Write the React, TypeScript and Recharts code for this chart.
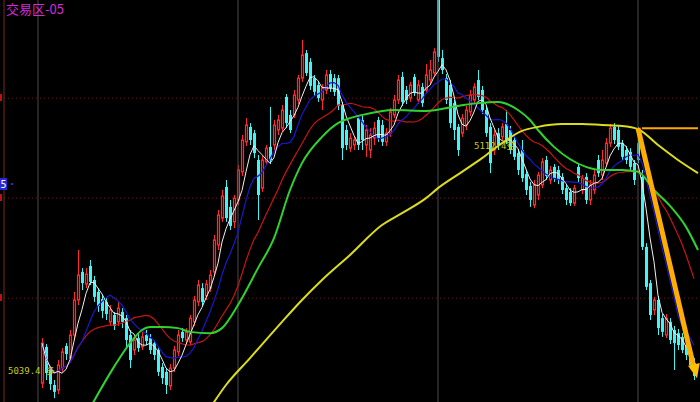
import React from 'react';
import { ComposedChart, Bar, Line, XAxis, YAxis, ReferenceLine, ReferenceDot } from 'recharts';

const FIRST_SLOT = 10;
const SLOT_COUNT = 175;
const Y_DOMAIN: [number, number] = [5029.76, 5158.4];

const opens = [
  5035.8, 5047.4, 5040.0, 5035.2, 5033.6, 5040.6, 5047.7, 5043.8, 5051.2, 5062.4,
  5071.4, 5067.5, 5073.3, 5068.8, 5065.0, 5062.7, 5061.8, 5055.4, 5057.6, 5055.4,
  5058.6, 5056.6, 5051.2, 5046.4, 5050.2, 5047.4, 5051.2, 5050.2, 5048.6, 5046.4,
  5041.0, 5039.4, 5034.9, 5040.6, 5045.8, 5052.2, 5049.6, 5049.0, 5055.4, 5061.8,
  5066.2, 5063.7, 5066.2, 5071.4, 5080.0, 5088.6, 5098.6, 5092.2, 5087.4, 5094.4,
  5103.4, 5113.0, 5117.8, 5115.8, 5107.2, 5098.2, 5106.6, 5111.4, 5112.0, 5116.8,
  5117.4, 5127.4, 5121.6, 5121.6, 5126.4, 5133.4, 5141.4, 5138.6, 5133.4, 5131.2,
  5126.4, 5129.6, 5134.7, 5133.4, 5133.4, 5124.8, 5116.8, 5111.0, 5112.0, 5120.6,
  5120.0, 5112.0, 5110.4, 5114.2, 5120.0, 5118.4, 5113.0, 5115.8, 5121.6, 5126.4,
  5133.8, 5129.6, 5127.0, 5133.8, 5126.4, 5130.6, 5129.6, 5132.8, 5135.0, 5158.4,
  5139.8, 5133.4, 5131.2, 5125.4, 5117.8, 5115.8, 5118.4, 5122.6, 5126.4, 5132.8,
  5129.6, 5123.2, 5117.8, 5110.4, 5115.8, 5114.6, 5118.7, 5116.8, 5113.6, 5109.4,
  5110.4, 5102.7, 5098.9, 5092.8, 5096.0, 5099.2, 5107.2, 5100.8, 5105.0, 5104.0,
  5101.8, 5098.2, 5097.0, 5093.4, 5105.0, 5097.6, 5101.8, 5094.4, 5097.6, 5107.2,
  5102.4, 5106.2, 5112.6, 5117.8, 5116.8, 5112.6, 5110.4, 5109.8, 5106.2, 5112.6,
  5101.8, 5079.4, 5067.8, 5059.2, 5062.4, 5056.6, 5051.2, 5055.4, 5052.8, 5051.8,
  5050.6, 5048.0, 5046.4, 5042.2,
];
const highs = [
  5050.2, 5048.3, 5041.3, 5036.8, 5043.2, 5047.0, 5048.6, 5052.8, 5065.0, 5078.4,
  5072.6, 5072.6, 5075.2, 5070.1, 5066.2, 5064.0, 5063.0, 5060.8, 5058.6, 5061.8,
  5059.8, 5057.6, 5052.8, 5050.9, 5051.5, 5052.2, 5052.8, 5051.5, 5049.6, 5047.4,
  5042.2, 5040.6, 5041.9, 5047.7, 5052.8, 5053.4, 5053.4, 5057.6, 5063.7, 5068.8,
  5067.8, 5068.8, 5072.0, 5083.2, 5091.2, 5097.6, 5100.8, 5094.4, 5096.0, 5105.6,
  5115.2, 5120.6, 5119.0, 5116.8, 5108.8, 5108.5, 5112.0, 5124.2, 5120.0, 5121.6,
  5124.8, 5128.3, 5123.2, 5129.6, 5134.4, 5145.6, 5142.4, 5139.8, 5134.4, 5132.2,
  5131.5, 5136.0, 5136.0, 5134.7, 5134.4, 5125.8, 5118.4, 5115.8, 5114.9, 5121.6,
  5121.3, 5118.4, 5117.4, 5119.4, 5121.0, 5120.0, 5117.4, 5123.8, 5128.0, 5134.4,
  5135.4, 5130.9, 5132.2, 5134.7, 5132.8, 5131.8, 5137.9, 5139.2, 5143.0, 5160.0,
  5142.4, 5134.7, 5132.8, 5126.4, 5118.7, 5121.9, 5124.5, 5129.6, 5131.8, 5136.0,
  5130.9, 5124.5, 5119.0, 5116.8, 5117.4, 5119.0, 5123.2, 5118.1, 5114.9, 5110.7,
  5113.6, 5104.0, 5100.2, 5100.8, 5103.4, 5107.8, 5108.5, 5105.3, 5105.9, 5105.3,
  5103.0, 5099.2, 5098.2, 5099.2, 5106.2, 5102.4, 5103.0, 5100.8, 5104.0, 5108.8,
  5110.4, 5114.2, 5118.7, 5119.0, 5118.1, 5113.6, 5111.7, 5111.0, 5107.2, 5117.8,
  5104.0, 5080.6, 5068.8, 5063.4, 5063.7, 5057.9, 5057.9, 5056.6, 5054.1, 5053.1,
  5051.8, 5049.6, 5048.0, 5043.8,
];
const lows = [
  5034.2, 5036.8, 5033.6, 5031.0, 5032.3, 5039.4, 5043.2, 5042.6, 5049.6, 5060.8,
  5065.6, 5066.2, 5067.2, 5061.8, 5058.6, 5056.6, 5056.0, 5054.1, 5052.8, 5054.1,
  5053.4, 5047.0, 5040.6, 5044.8, 5045.8, 5046.4, 5048.0, 5045.1, 5043.2, 5038.1,
  5035.5, 5032.3, 5033.6, 5039.4, 5044.5, 5049.0, 5048.3, 5048.0, 5054.1, 5060.5,
  5060.5, 5062.4, 5065.0, 5070.1, 5078.4, 5087.4, 5087.4, 5084.8, 5085.4, 5092.8,
  5102.1, 5111.7, 5112.0, 5107.8, 5088.0, 5097.0, 5105.6, 5105.9, 5110.4, 5115.2,
  5116.2, 5117.4, 5115.8, 5120.6, 5125.1, 5132.2, 5134.1, 5129.6, 5127.7, 5125.8,
  5123.2, 5128.3, 5129.0, 5127.7, 5123.2, 5107.2, 5110.4, 5109.8, 5110.4, 5110.4,
  5110.4, 5108.2, 5107.8, 5112.0, 5113.0, 5111.7, 5111.7, 5114.6, 5120.6, 5125.1,
  5124.5, 5125.1, 5125.8, 5127.7, 5125.1, 5124.2, 5128.6, 5131.2, 5134.1, 5138.6,
  5134.7, 5125.1, 5117.4, 5113.6, 5108.5, 5114.6, 5116.8, 5121.3, 5125.1, 5126.4,
  5121.9, 5114.6, 5103.0, 5108.8, 5110.4, 5113.6, 5112.3, 5109.1, 5107.2, 5102.4,
  5100.2, 5096.0, 5092.2, 5091.8, 5094.4, 5098.2, 5100.8, 5099.5, 5100.2, 5099.5,
  5096.3, 5092.8, 5092.5, 5092.5, 5100.2, 5096.3, 5093.1, 5092.8, 5096.3, 5101.8,
  5100.8, 5105.3, 5111.4, 5112.3, 5110.4, 5107.2, 5105.9, 5104.0, 5099.2, 5106.2,
  5078.4, 5065.6, 5056.0, 5057.6, 5051.2, 5050.6, 5050.2, 5048.3, 5040.0, 5046.4,
  5045.4, 5043.2, 5040.6, 5036.8,
];
const closes = [
  5048.6, 5039.0, 5035.5, 5033.0, 5041.6, 5045.8, 5045.1, 5051.2, 5062.4, 5070.4,
  5067.8, 5070.7, 5068.2, 5063.4, 5060.5, 5058.9, 5057.9, 5059.2, 5054.1, 5059.8,
  5055.4, 5049.6, 5043.2, 5049.6, 5047.0, 5050.6, 5049.3, 5046.4, 5044.8, 5039.4,
  5037.4, 5035.2, 5040.6, 5046.4, 5051.2, 5050.2, 5052.2, 5056.6, 5062.4, 5067.2,
  5061.8, 5067.5, 5070.4, 5081.6, 5089.6, 5095.7, 5088.6, 5086.1, 5095.0, 5104.0,
  5113.6, 5118.4, 5113.6, 5109.4, 5096.0, 5107.2, 5111.0, 5107.2, 5118.4, 5120.0,
  5123.2, 5119.0, 5116.8, 5128.0, 5133.4, 5140.8, 5135.0, 5130.9, 5129.0, 5127.0,
  5130.2, 5134.4, 5130.2, 5129.0, 5124.5, 5111.0, 5112.0, 5114.2, 5113.6, 5112.0,
  5113.6, 5116.8, 5115.2, 5117.4, 5114.2, 5113.0, 5115.8, 5122.6, 5126.4, 5132.8,
  5125.8, 5126.4, 5131.2, 5128.6, 5131.2, 5125.4, 5134.4, 5136.0, 5141.8, 5140.2,
  5136.0, 5126.4, 5119.0, 5116.8, 5110.4, 5120.6, 5123.2, 5128.0, 5130.6, 5127.4,
  5123.2, 5115.8, 5106.2, 5115.2, 5112.0, 5117.8, 5113.6, 5110.4, 5108.2, 5104.0,
  5101.4, 5097.6, 5094.4, 5099.2, 5102.4, 5106.6, 5102.1, 5104.0, 5101.4, 5100.8,
  5097.6, 5094.4, 5093.4, 5098.2, 5101.4, 5101.4, 5094.4, 5099.2, 5102.4, 5103.0,
  5107.2, 5112.6, 5117.4, 5113.6, 5111.4, 5108.2, 5107.2, 5105.0, 5100.8, 5107.2,
  5079.4, 5066.6, 5057.6, 5062.4, 5053.4, 5052.2, 5056.6, 5049.6, 5048.6, 5048.0,
  5046.4, 5044.8, 5041.6, 5038.1,
];

const greenSlots = [22, 28, 32, 35, 37, 40, 44, 47, 52, 55, 59, 64, 68, 72, 75, 80, 84, 87, 90, 98, 106, 114, 119, 124, 129, 132, 134, 138, 146, 150, 155, 159, 163, 167, 171, 174];
const greenValues = [5027.8, 5041.0, 5048.6, 5052.8, 5053.8, 5053.8, 5053.4, 5052.2, 5051.8, 5053.4, 5060.8, 5072.6, 5082.2, 5097.6, 5106.2, 5114.6, 5119.0, 5120.6, 5121.6, 5123.2, 5122.9, 5124.5, 5125.4, 5125.8, 5123.2, 5120.0, 5116.8, 5111.4, 5105.0, 5104.0, 5104.0, 5103.4, 5097.6, 5092.5, 5085.8, 5078.4];

const yellowSlots = [52, 56, 62, 70, 75, 80, 87, 95, 100, 106, 109, 115, 120, 125, 130, 134, 140, 145, 150, 155, 159, 164, 169, 174];
const yellowValues = [5027.8, 5035.2, 5043.8, 5055.4, 5062.4, 5068.8, 5076.8, 5086.4, 5090.2, 5095.0, 5098.2, 5103.4, 5107.8, 5112.6, 5116.5, 5117.8, 5118.7, 5118.7, 5118.4, 5118.1, 5117.1, 5112.0, 5107.2, 5103.0];

const gridPrices = [5127.0, 5095.0, 5063.0];
const sessionSlots = [9, 59, 109, 159];
const trendStart = { slot: 159, price: 5117.4 };
const trendEnd = { slot: 173, price: 5040.6 };
const trendInnerEnd = { slot: 172, price: 5044.0 };
const flatLine = { from: 160, to: 174, price: 5117.4 };

const UP = '#ff2a2a';
const DOWN = '#44f4f4';

function movingAverage(period: number): number[] {
  return closes.map((_, k) => {
    const s = Math.max(0, k - period + 1);
    let sum = 0;
    for (let j = s; j <= k; j++) sum += closes[j];
    return sum / (k - s + 1);
  });
}
const ma5 = movingAverage(5);
const ma10 = movingAverage(10);
const ma20 = movingAverage(20);

const data = Array.from({ length: SLOT_COUNT }, (_, i) => {
  const k = i - FIRST_SLOT;
  const has = k >= 0 && k < closes.length;
  const gi = greenSlots.indexOf(i);
  const yi = yellowSlots.indexOf(i);
  return {
    i,
    range: has ? [lows[k], highs[k]] : null,
    o: has ? opens[k] : null,
    h: has ? highs[k] : null,
    l: has ? lows[k] : null,
    c: has ? closes[k] : null,
    ma5: has ? ma5[k] : null,
    ma10: has ? ma10[k] : null,
    ma20: has ? ma20[k] : null,
    green: gi >= 0 ? greenValues[gi] : null,
    yellow: yi >= 0 ? yellowValues[yi] : null,
  };
});

const Candle = (props: any) => {
  const { x, y, width, height, payload } = props;
  if (!payload || payload.o == null) return null;
  const { o, c, h, l } = payload;
  const top0 = height < 0 ? y + height : y;
  const hh = Math.abs(height);
  const span = h - l;
  const k = span > 0 ? hh / span : 0;
  const py = (v: number) => top0 + (h - v) * k;
  const up = c >= o;
  const color = up ? UP : DOWN;
  const cx = x + width / 2;
  const bt = py(Math.max(o, c));
  const bb = py(Math.min(o, c));
  const bh = Math.max(bb - bt, 1);
  return (
    <g>
      <line x1={cx} x2={cx} y1={top0} y2={top0 + hh} stroke={color} strokeWidth={1} />
      {up ? (
        <rect x={x + 0.5} y={bt} width={Math.max(width - 1, 1)} height={bh} fill="#1a0000" stroke={color} strokeWidth={1.2} />
      ) : (
        <rect x={x} y={bt} width={width} height={bh} fill={color} />
      )}
    </g>
  );
};

const ArrowHead = (props: any) => {
  const { cx, cy } = props;
  if (cx == null || cy == null) return null;
  const ux = 0.224, uy = 0.976;
  const px = 0.976, py = -0.224;
  const tx = cx + 3, ty = cy + 10;
  const bx = tx - 14 * ux, by = ty - 14 * uy;
  const pts = `${tx},${ty} ${bx + 6 * px},${by + 6 * py} ${bx - 6 * px},${by - 6 * py}`;
  return <polygon points={pts} fill="#ffc000" />;
};

export default function App() {
  return (
    <div style={{ position: 'fixed', left: 0, top: 0, width: 700, height: 402, background: '#000', overflow: 'hidden' }}>
      <ComposedChart width={700} height={402} data={data} margin={{ top: 0, right: 0, bottom: 0, left: 0 }}>
        <XAxis dataKey="i" hide />
        <YAxis hide type="number" domain={Y_DOMAIN} allowDataOverflow />
        <ReferenceLine x={1} position="start" stroke="#7a2618" strokeWidth={1} />
        {sessionSlots.map((s) => (
          <ReferenceLine key={'v' + s} x={s} position="middle" stroke="#4a4a4a" strokeWidth={1} />
        ))}
        {gridPrices.map((p) => (
          <ReferenceLine key={'h' + p} y={p} stroke="#6a1c14" strokeDasharray="1 3" strokeWidth={1} />
        ))}
        <Bar dataKey="range" barSize={3} shape={<Candle />} isAnimationActive={false} />
        <Line dataKey="ma20" stroke="#c81414" strokeWidth={1.2} dot={false} isAnimationActive={false} />
        <Line dataKey="ma10" stroke="#1818d0" strokeWidth={1.2} dot={false} isAnimationActive={false} />
        <Line dataKey="ma5" stroke="#f0f0f0" strokeWidth={1} dot={false} isAnimationActive={false} />
        <Line dataKey="green" type="monotone" connectNulls stroke="#2fd22f" strokeWidth={2} dot={false} isAnimationActive={false} />
        <Line dataKey="yellow" type="monotone" connectNulls stroke="#dcdc1e" strokeWidth={2} dot={false} isAnimationActive={false} />
        <ReferenceLine
          segment={[{ x: flatLine.from, y: flatLine.price }, { x: flatLine.to, y: flatLine.price }]}
          stroke="#ffa800"
          strokeWidth={2}
        />
        <ReferenceLine
          segment={[{ x: trendStart.slot, y: trendStart.price }, { x: trendInnerEnd.slot, y: trendInnerEnd.price }]}
          stroke="#ff7a00"
          strokeWidth={1.5}
        />
        <ReferenceLine
          segment={[{ x: trendStart.slot, y: trendStart.price }, { x: trendEnd.slot, y: trendEnd.price }]}
          stroke="#ffae00"
          strokeWidth={5}
        />
        <ReferenceDot x={trendEnd.slot} y={trendEnd.price} r={0} shape={<ArrowHead />} />
      </ComposedChart>
      <svg width={700} height={402} style={{ position: 'absolute', left: 0, top: 0, pointerEvents: 'none' }}>
        <text x={6} y={14} fill="#d828d8" fontSize={13} fontFamily="'Noto Sans CJK SC', sans-serif">交易区-05</text>
        <rect x={0} y={94} width={2} height={7} fill="#c01010" />
        <rect x={0} y={194} width={2} height={7} fill="#c01010" />
        <rect x={0} y={294} width={2} height={7} fill="#c01010" />
        <rect x={0} y={178} width={7} height={12} fill="#2828d8" />
        <text x={0.5} y={188} fill="#ffffff" fontSize={10} fontFamily="'DejaVu Sans Mono', monospace">5</text>
        <rect x={11} y={183} width={2} height={2} fill="#2828d8" />
        <text x={8} y={374} fill="#c8c81e" fontSize={9} fontFamily="'DejaVu Sans Mono', 'Noto Sans CJK SC', monospace">5039.4 多</text>
        <text x={474} y={149} fill="#c8c81e" fontSize={9} fontFamily="'DejaVu Sans Mono', 'Noto Sans CJK SC', monospace">5112.4空</text>
      </svg>
    </div>
  );
}
